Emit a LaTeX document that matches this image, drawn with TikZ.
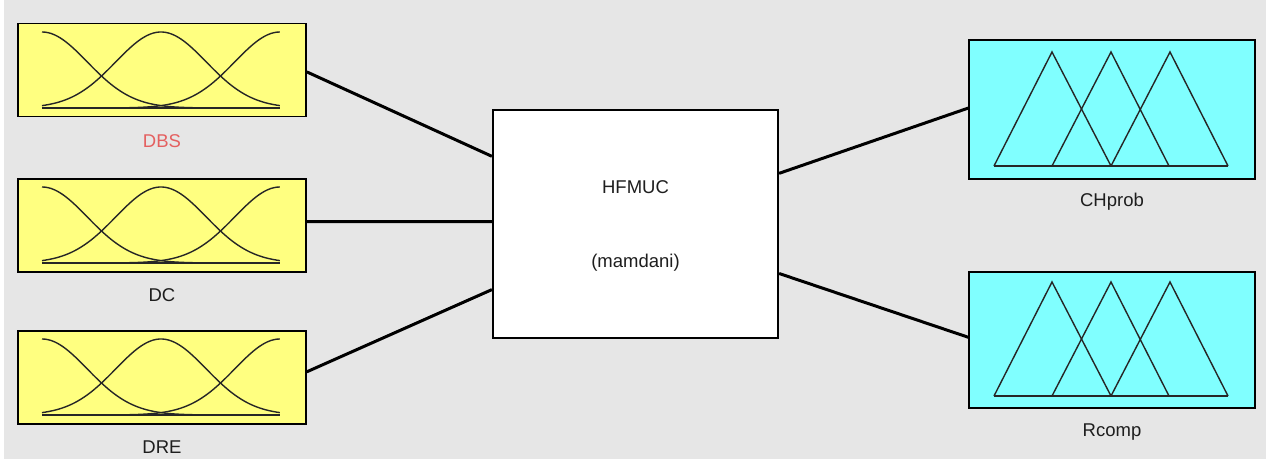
\documentclass[tikz,border=0pt]{standalone}
\usepackage{fontspec}
\setmainfont{Liberation Sans}
\usetikzlibrary{calc}
\definecolor{bggray}{RGB}{230,230,230}
\definecolor{inyellow}{RGB}{255,255,128}
\definecolor{outcyan}{RGB}{128,255,255}
\definecolor{lblred}{RGB}{228,96,96}
\definecolor{txtgray}{RGB}{30,30,30}
\tikzset{
  inbox/.style={draw=black, line width=1.6bp, fill=inyellow, minimum width=288bp, minimum height=93bp, inner sep=0pt},
  outbox/.style={draw=black, line width=1.6bp, fill=outcyan, minimum width=286bp, inner sep=0pt},
  fisbox/.style={draw=black, line width=2.2bp, fill=white, minimum width=285bp, minimum height=228bp, inner sep=0pt},
  lbl/.style={font=\fontsize{18.5bp}{21bp}\selectfont, text=txtgray, inner sep=0pt},
  conn/.style={draw=black, line width=3bp},
  mfline/.style={draw=black!85, line width=1.4bp},
}
\newcommand{\gaussmfs}[3]{% #1 = left x, #2 = bottom y, #3 = height
  \foreach \c in {0,0.5,1}{
    \draw[mfline] plot[domain=0:1, samples=80, smooth] ({#1+238*\x},{#2-#3*exp(-((\x-\c)^2)/(2*0.19^2))});
  }
  \draw[mfline] (#1,#2) -- (#1+238,#2);
}
\newcommand{\trimfs}[3]{% #1 = left x, #2 = bottom y, #3 = top y
  \draw[mfline] (#1,#2) -- (#1+58,#3) -- (#1+117,#2);
  \draw[mfline] (#1+58,#2) -- (#1+117,#3) -- (#1+175,#2);
  \draw[mfline] (#1+117,#2) -- (#1+176,#3) -- (#1+234,#2);
  \draw[mfline] (#1,#2) -- (#1+234,#2);
}
\begin{document}
\begin{tikzpicture}[x=1bp,y=-1bp]
\useasboundingbox (0,0) rectangle (1266,459);
\fill[bggray] (0,0) rectangle (1266,459);
\fill[white] (0,0) rectangle (4,459);

% input boxes
\node[inbox] (dbs) at (162,70) {};
\node[inbox] (dc) at (162,225.5) {};
\node[inbox] (dre) at (162,377.5) {};
\gaussmfs{42}{108}{76}
\gaussmfs{42}{263}{76}
\gaussmfs{42}{415}{76}
\node[lbl, text=lblred] (ldbs) at (162,141) {DBS};
\node[lbl] (ldc) at (162,295) {DC};
\node[lbl] (ldre) at (162,447) {DRE};

% FIS box
\node[fisbox] (fis) at (635.5,224) {};
\node[lbl] (fname) at (635.5,187) {HFMUC};
\node[lbl] (ftype) at (635.5,263) {(mamdani)};

% output boxes
\node[outbox, minimum height=139bp] (chp) at (1112,109.5) {};
\node[outbox, minimum height=136bp] (rc) at (1112,340) {};
\trimfs{994}{166}{52}
\trimfs{994}{396}{282}
\node[lbl] (lchp) at (1112,202) {CHprob};
\node[lbl] (lrc) at (1112,432) {Rcomp};

% connectors
\draw[conn] ($(dbs.north east)!0.52!(dbs.south east)$) -- ($(fis.north west)!0.206!(fis.south west)$);
\draw[conn] ($(dc.north east)!0.46!(dc.south east)$) -- ($(fis.north west)!0.49!(fis.south west)$);
\draw[conn] ($(dre.north east)!0.44!(dre.south east)$) -- ($(fis.north west)!0.785!(fis.south west)$);
\draw[conn] ($(fis.north east)!0.28!(fis.south east)$) -- ($(chp.north west)!0.49!(chp.south west)$);
\draw[conn] ($(fis.north east)!0.715!(fis.south east)$) -- ($(rc.north west)!0.48!(rc.south west)$);
\end{tikzpicture}
\end{document}
